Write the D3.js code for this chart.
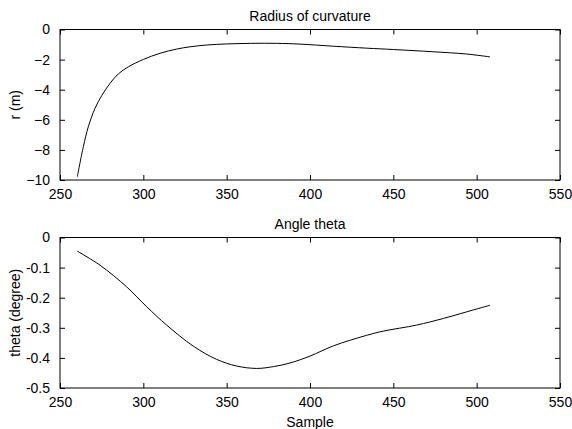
<!DOCTYPE html>
<html><head><meta charset="utf-8">
<script src="https://cdn.jsdelivr.net/npm/d3@7"></script>
<style>body{margin:0;background:#fff}svg{display:block}text{font-family:"Liberation Sans",Arial,sans-serif;fill:#000}</style>
</head><body><svg id="c" width="572" height="429"></svg>
<script>
const xTicks=[250,300,350,400,450,500,550];
const rTicks=[0,-2,-4,-6,-8,-10];
const thTicks=[0,-0.1,-0.2,-0.3,-0.4,-0.5];
const rSample=[260.4,264,267,271,275,280,285,291,300,310,320,328,338,350,365,380,394,414,434,450,474,494,508];
const rValue=[-9.78,-7.79,-6.46,-5.24,-4.40,-3.58,-2.95,-2.48,-1.99,-1.58,-1.30,-1.15,-1.03,-0.96,-0.92,-0.92,-0.97,-1.11,-1.24,-1.33,-1.48,-1.63,-1.82];
const thSample=[260.4,274,290,302,314,330,344,356,368,378,388,400,414,434,444,464,480,494,508];
const thValue=[-0.0455,-0.092,-0.164,-0.230,-0.291,-0.361,-0.405,-0.427,-0.435,-0.429,-0.417,-0.394,-0.360,-0.325,-0.311,-0.291,-0.269,-0.247,-0.225];

const svg=d3.select("#c");
const L=60,R=560;
function panel(top,bottom,xs,ys,yDom,yTicks,title,ylab,xlab,fmt){
  const x=d3.scaleLinear().domain([250,550]).range([L,R]);
  const y=d3.scaleLinear().domain(yDom).range([bottom,top]);
  const g=svg.append("g");
  const tl=5;
  g.append("g").attr("transform",`translate(0,${bottom})`).call(d3.axisBottom(x).tickValues(xTicks).tickSizeInner(-tl).tickSizeOuter(0).tickPadding(9).tickFormat(d3.format("d")));
  g.append("g").attr("transform",`translate(0,${top})`).call(d3.axisTop(x).tickValues(xTicks).tickSizeInner(-tl).tickSizeOuter(0).tickFormat(""));
  g.append("g").attr("transform",`translate(${L},0)`).call(d3.axisLeft(y).tickValues(yTicks).tickSizeInner(-tl).tickSizeOuter(0).tickPadding(10).tickFormat(fmt));
  g.append("g").attr("transform",`translate(${R},0)`).call(d3.axisRight(y).tickValues(yTicks).tickSizeInner(-tl).tickSizeOuter(0).tickFormat(""));
  g.selectAll(".domain").remove();
  g.selectAll(".tick line").attr("stroke","#000");
  g.selectAll(".tick text").attr("font-size",14).attr("font-family","Liberation Sans, Arial, sans-serif");
  g.append("rect").attr("x",L).attr("y",top).attr("width",R-L).attr("height",bottom-top).attr("fill","none").attr("stroke","#000").attr("stroke-width",1);
  const line=d3.line().x((d,i)=>x(xs[i])).y(d=>y(d)).curve(d3.curveCatmullRom.alpha(0.5));
  g.append("path").datum(ys).attr("d",line).attr("fill","none").attr("stroke","#000").attr("stroke-width",1);
  g.append("text").attr("x",310).attr("y",top-8.5).attr("text-anchor","middle").attr("font-size",14).text(title);
  g.append("text").attr("transform",`translate(15,${(top+bottom)/2}) rotate(-90)`).attr("dy","0.35em").attr("text-anchor","middle").attr("font-size",14).text(ylab);
  if(xlab) g.append("text").attr("x",310).attr("y",426.5).attr("text-anchor","middle").attr("font-size",14).text(xlab);
}
panel(29.5,180,rSample,rValue,[-10,0],rTicks,"Radius of curvature","r (m)",null,d3.format("d"));
panel(237.5,388,thSample,thValue,[-0.5,0],thTicks,"Angle theta","theta (degree)","Sample",d=>d===0?"0":d3.format(".1f")(d).replace("−","-"));
</script></body></html>
